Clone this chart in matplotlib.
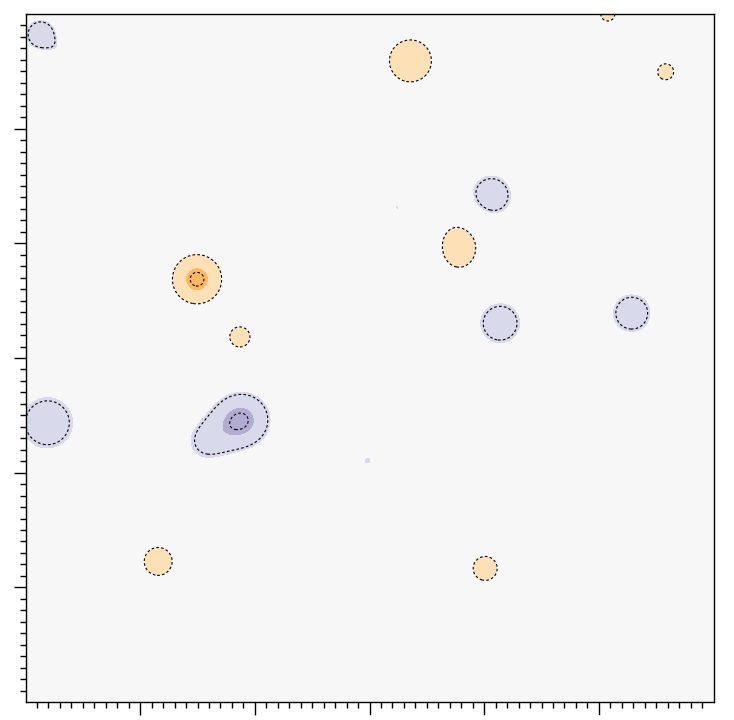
import numpy as np
import matplotlib
matplotlib.use("Agg")
import matplotlib.pyplot as plt
from matplotlib.ticker import FixedLocator

# bump centres (data units), amplitudes (+ purple, - orange) and widths
bump_x = [-2.868, -2.725, 0.357, 2.078, 2.583, 1.061, 0.243, 0.783, -1.504, -1.130,
          1.139, 2.287, -2.809, -1.115, -1.44, -0.017, -1.843, 1.009, 1.922]
bump_y = [2.822, 2.70, 2.591, 3.0, 2.496, 1.417, 1.313, 0.974, 0.687, 0.183,
          0.304, 0.391, -0.565, -0.54, -0.74, -0.896, -1.774, -1.835, -2.765]
bump_amp = [1.75, 0.45, -1.5, -1.5, -1.5, 1.5, 0.92, -1.5, -2.12, -1.5,
            1.5, 1.5, 1.5, 2.05, 1.0, 0.95, -1.5, -1.5, -1.0]
bump_sx = [0.103, 0.07, 0.203, 0.068, 0.077, 0.164, 0.025, 0.164, 0.175, 0.097,
           0.164, 0.154, 0.212, 0.19, 0.17, 0.05, 0.135, 0.116, 0.015]
bump_sy = [0.103, 0.07, 0.203, 0.068, 0.077, 0.164, 0.025, 0.203, 0.175, 0.097,
           0.164, 0.154, 0.212, 0.185, 0.17, 0.05, 0.135, 0.116, 0.015]

fill_levels = [-10, -1.8, -0.99, 0.88, 1.8, 10]
fill_colors = ['#fdb863', '#fee0b6', '#f7f7f7', '#d8daeb', '#b2abd2']
line_levels = [-2, -1, 1, 2]

x = np.linspace(-3, 3, 700)
y = np.linspace(-3, 3, 700)
X, Y = np.meshgrid(x, y)
Z = np.zeros_like(X)
for bx, by, a, sx, sy in zip(bump_x, bump_y, bump_amp, bump_sx, bump_sy):
    Z += a * np.exp(-((X - bx) ** 2 / (2 * sx ** 2) + (Y - by) ** 2 / (2 * sy ** 2)))

fig = plt.figure(figsize=(7.34, 7.2), dpi=100)
ax = fig.add_axes([25.5 / 734, 18 / 720, 688 / 734, 688 / 720])
ax.contourf(X, Y, Z, levels=fill_levels, colors=fill_colors)
ax.contour(X, Y, Z, levels=line_levels, colors='k', linewidths=0.8,
           linestyles=[(0, (2.4, 2.0))])

ax.set_xlim(-3, 3)
ax.set_ylim(-3, 3)
major = [-2, -1, 0, 1, 2]
minor = [v for v in np.round(np.arange(-2.9, 2.95, 0.1), 2) if abs(v - round(v)) > 1e-6]
for axis in (ax.xaxis, ax.yaxis):
    axis.set_major_locator(FixedLocator(major))
    axis.set_minor_locator(FixedLocator(minor))
ax.tick_params(which='major', direction='out', length=9, width=1, colors='k',
               labelcolor='white', labelsize=5, pad=0.5)
ax.tick_params(which='minor', direction='out', length=4.5, width=1, colors='k')
for sp in ax.spines.values():
    sp.set_linewidth(1)

fig.savefig('out.png', dpi=100)
